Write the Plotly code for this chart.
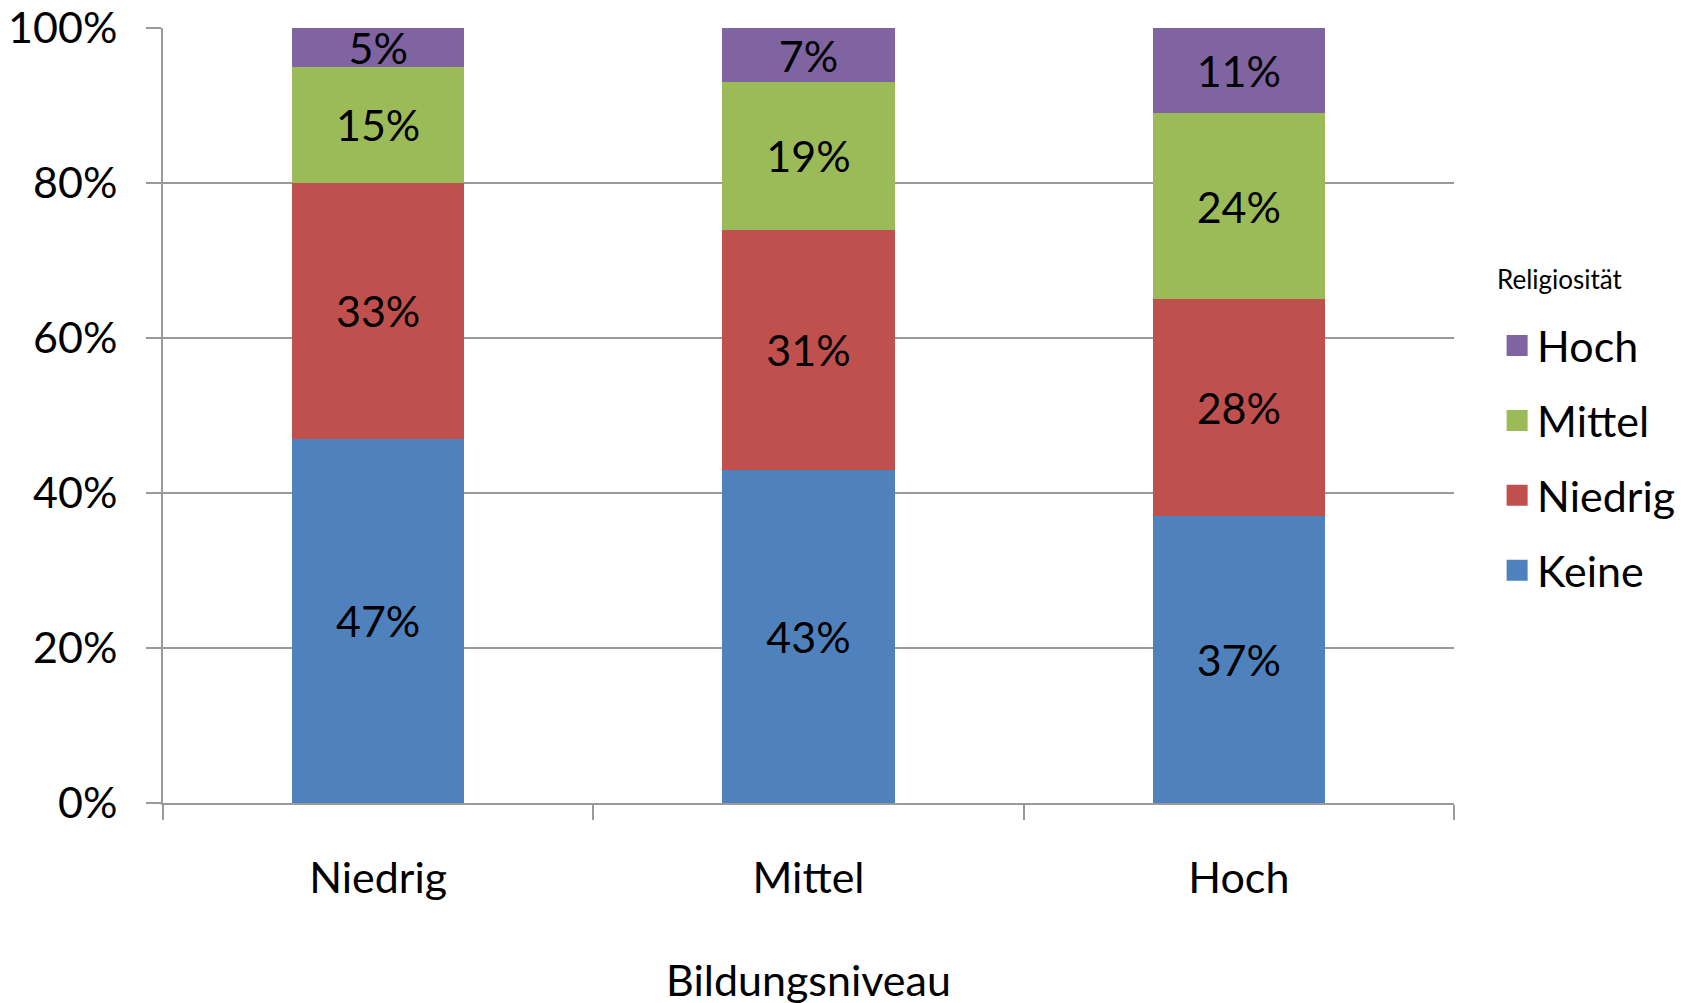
import plotly.graph_objects as go

# Bildungsniveau categories and share per Religiosität level (percent)
categories = ["Niedrig", "Mittel", "Hoch"]
keine = [47, 43, 37]
niedrig = [33, 31, 28]
mittel = [15, 19, 24]
hoch = [5, 7, 11]

series = [
    ("Keine", keine, "#4F81BD"),
    ("Niedrig", niedrig, "#C0504D"),
    ("Mittel", mittel, "#9BBB59"),
    ("Hoch", hoch, "#8064A2"),
]

FONT = "Lato"
SIZE = 43
GRID = "#9A9A9A"

fig = go.Figure()
for name, vals, color in series:
    fig.add_trace(go.Bar(
        x=categories,
        y=vals,
        name=name,
        marker_color=color,
        marker_line_width=0,
        text=[f"{v}%" for v in vals],
        textposition="inside",
        insidetextanchor="middle",
        constraintext="none",
        textfont=dict(family=FONT, size=SIZE, color="black"),
        showlegend=False,
    ))

# legend entries with square swatches, top to bottom
for name, vals, color in reversed(series):
    fig.add_trace(go.Scatter(
        x=[None], y=[None],
        mode="markers",
        name=name,
        legendgroup=name,
        marker=dict(symbol="square", size=20, color=color,
                    line=dict(color=color, width=5)),
    ))

fig.update_layout(
    width=1702,
    height=1003,
    barmode="stack",
    bargap=0.6,
    plot_bgcolor="white",
    paper_bgcolor="white",
    font=dict(family=FONT, size=SIZE, color="black"),
    margin=dict(l=155, r=256, t=20, b=208),
    legend=dict(
        x=1.0334, y=0.6348,
        xanchor="left", yanchor="top",
        traceorder="grouped",
        tracegroupgap=16,
        itemsizing="trace",
        font=dict(family=FONT, size=SIZE),
    ),
    annotations=[dict(
        text="Religiosität", xref="paper", yref="paper",
        x=1.0318, y=0.6766, xanchor="left", yanchor="middle",
        showarrow=False, font=dict(family=FONT, size=26),
    )],
)
fig.update_xaxes(
    automargin=False,
    showline=True, linecolor=GRID, linewidth=2,
    ticks="outside", tickson="boundaries", ticklen=15, tickcolor=GRID, tickwidth=2,
    ticklabelstandoff=36,
    title=dict(text="Bildungsniveau", font=dict(family=FONT, size=SIZE), standoff=65),
)
fig.update_yaxes(
    automargin=False,
    ticklabeloverflow="allow",
    range=[0, 100],
    tickvals=[0, 20, 40, 60, 80, 100],
    ticktext=["0%", "20%", "40%", "60%", "80%", "100%"],
    showgrid=True, gridcolor=GRID, gridwidth=2,
    showline=True, linecolor=GRID, linewidth=2,
    ticks="outside", ticklen=15, tickcolor=GRID, tickwidth=2,
    ticklabelstandoff=20,
    zeroline=False,
)

fig.write_html("out.html")
